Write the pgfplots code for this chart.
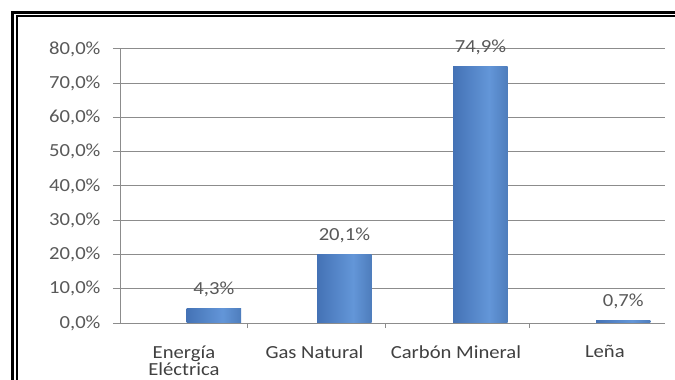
\documentclass[border=0pt]{standalone}
\usepackage{pgfplots}
\usepackage{pgfplotstable}
\pgfplotsset{compat=1.18}
\usepackage{fontspec}
\setmainfont[FakeStretch=1.12]{Carlito}

\definecolor{txt}{HTML}{595959}
\definecolor{cattxt}{HTML}{404040}
\definecolor{gridc}{HTML}{8C8C8C}
\definecolor{barleft}{HTML}{3763A7}
\definecolor{barlight}{HTML}{6396D8}
\definecolor{barright}{HTML}{264D87}

% cylinder-like shading across each bar
\pgfdeclarehorizontalshading{cylshade}{100bp}{%
  color(0bp)=(barleft); color(25bp)=(barleft!70!barlight); color(58bp)=(barlight);
  color(85bp)=(barlight!45!barright); color(100bp)=(barright)}

% share of each energy source
\pgfplotstableread{
pos  share
0.00 4.3
0.96 20.1
1.96 74.9
3.01 0.7
}\sharetable

\begin{document}
\begin{tikzpicture}
\useasboundingbox (0bp,0bp) rectangle (675bp,380bp);
\begin{scope}
  \clip (0bp,0bp) rectangle (675bp,380bp);
  \fill[white] (0bp,0bp) rectangle (675bp,380bp);
  % double frame
  \draw[line width=3bp] (12.5bp,-20bp) -- (12.5bp,367.5bp) -- (720bp,367.5bp);
  \draw[line width=2bp] (17bp,-20bp) -- (17bp,363.5bp) -- (720bp,363.5bp);
\end{scope}
\begin{axis}[
  at={(120bp,57bp)}, anchor=south west,
  scale only axis, width=545bp, height=274bp,
  xmin=-0.69, xmax=3.317, ymin=0, ymax=80,
  axis y line*=left, axis x line*=bottom,
  axis line style={draw=gridc, line width=1bp},
  ytick={0,10,...,80},
  ymajorgrids, grid style={draw=gridc, line width=1bp},
  tick align=outside, major tick length=7bp,
  ytick style={draw=gridc, line width=1bp},
  yticklabel={\pgfmathprintnumber{\tick}\%},
  yticklabel style={font=\fontsize{18.5}{20}\selectfont, text=txt, xshift=-9bp},
  xtick={-0.22,0.74,1.78,2.875},
  xticklabels={{Energía\\Eléctrica},Gas Natural,Carbón Mineral,Leña},
  xticklabel style={align=center, font=\fontsize{18.5}{15}\selectfont, text=cattxt, yshift=-12bp},
  xtick style={draw=none},
  extra x ticks={0.25,1.26,2.32},
  extra x tick labels={},
  extra x tick style={xtick style={draw=gridc, line width=1bp}, major tick length=5bp},
  /pgf/number format/use comma,
  /pgf/number format/fixed,
  /pgf/number format/fixed zerofill,
  /pgf/number format/precision=1,
  /pgf/number format/assume math mode=true,
  cyl/.style={ybar, bar width=0.40, draw=none, shading=cylshade,
    nodes near coords={\pgfmathprintnumber{\pgfplotspointmeta}\%},
    nodes near coords style={font=\fontsize{18.5}{20}\selectfont, text=txt, yshift=8bp}},
]
% one plot per bar so that each bar gets its own shading
\pgfplotsinvokeforeach{0,...,3}{
  \addplot[cyl, restrict expr to domain={\coordindex}{#1:#1}]
    table[x=pos, y=share] {\sharetable};
}
\end{axis}
\end{tikzpicture}
\end{document}
